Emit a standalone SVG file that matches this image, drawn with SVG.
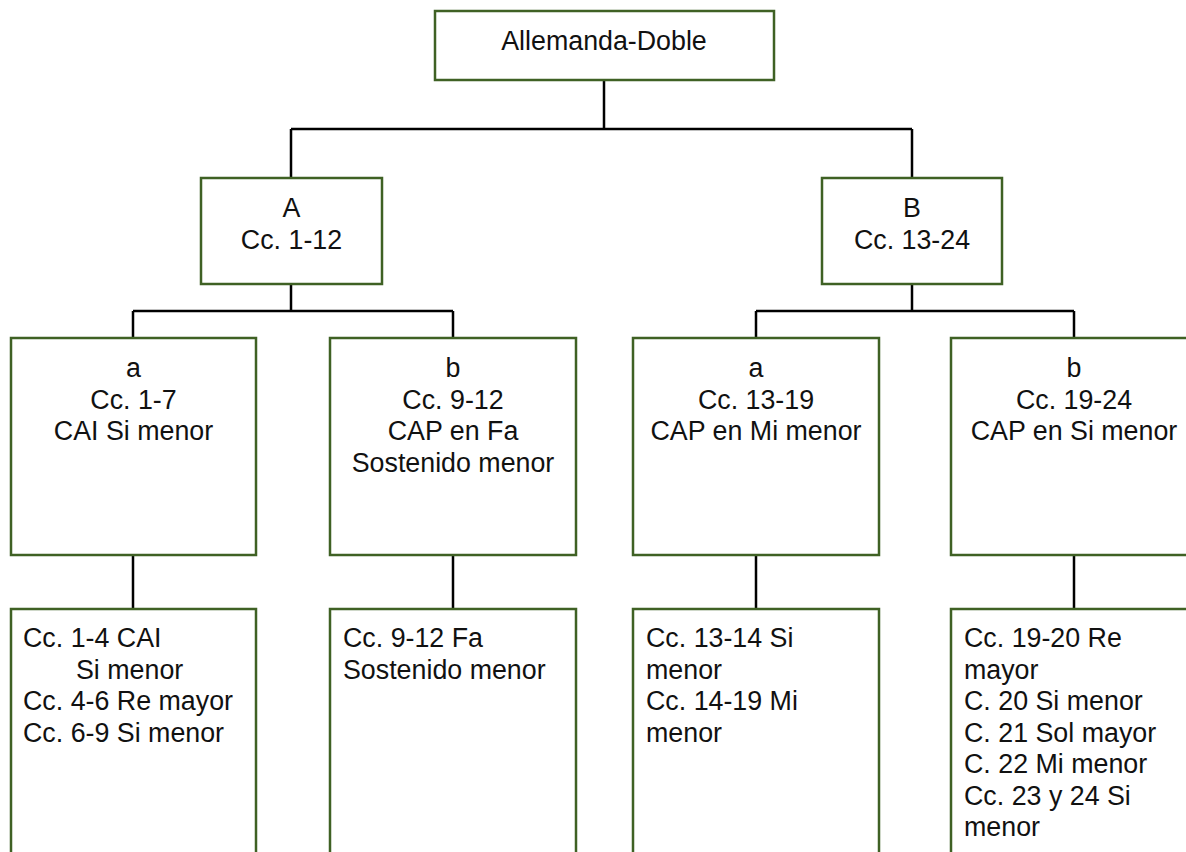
<svg xmlns="http://www.w3.org/2000/svg" width="1186" height="852" viewBox="0 0 1186 852">
<style>
.box{fill:#fff;stroke:#3f6124;stroke-width:2.5}
.t{font-family:"Liberation Sans",Arial,sans-serif;font-size:26.8px;fill:#111}
.c{text-anchor:middle}
.conn{fill:none;stroke:#000;stroke-width:2.5}
</style>
<rect width="1186" height="852" fill="#fff"/>
<g id="connectors">
<path class="conn" d="M604 80V129M291 129H912M291 129V178M912 129V178M291 284V311M133 311H453M133 311V338M453 311V338M912 284V311M756 311H1074M756 311V338M1074 311V338M133 555V609M453 555V609M756 555V609M1074 555V609"/>
</g>
<g id="root">
<rect class="box" x="435" y="11" width="339" height="69"/>
<text class="t c" x="604" y="50">Allemanda-Doble</text>
</g>
<g id="A">
<rect class="box" x="201" y="178" width="181" height="106"/>
<text class="t c" x="291.5" y="217">A</text>
<text class="t c" x="291.5" y="249">Cc. 1-12</text>
</g>
<g id="B">
<rect class="box" x="822" y="178" width="180" height="106"/>
<text class="t c" x="912" y="217">B</text>
<text class="t c" x="912" y="249">Cc. 13-24</text>
</g>
<g id="Aa">
<rect class="box" x="11" y="338" width="245" height="217"/>
<text class="t c" x="133.5" y="377">a</text>
<text class="t c" x="133.5" y="409">Cc. 1-7</text>
<text class="t c" x="133.5" y="440">CAI Si menor</text>
</g>
<g id="Ab">
<rect class="box" x="330" y="338" width="246" height="217"/>
<text class="t c" x="453" y="377">b</text>
<text class="t c" x="453" y="409">Cc. 9-12</text>
<text class="t c" x="453" y="440">CAP en Fa</text>
<text class="t c" x="453" y="472">Sostenido menor</text>
</g>
<g id="Ba">
<rect class="box" x="633" y="338" width="246" height="217"/>
<text class="t c" x="756" y="377">a</text>
<text class="t c" x="756" y="409">Cc. 13-19</text>
<text class="t c" x="756" y="440">CAP en Mi menor</text>
</g>
<g id="Bb">
<rect class="box" x="951" y="338" width="246" height="217"/>
<text class="t c" x="1074" y="377">b</text>
<text class="t c" x="1074" y="409">Cc. 19-24</text>
<text class="t c" x="1074" y="440">CAP en Si menor</text>
</g>
<g id="Aa-detail">
<rect class="box" x="11" y="609" width="245" height="260"/>
<text class="t" x="23" y="647">Cc. 1-4 CAI</text>
<text class="t" x="76" y="679">Si menor</text>
<text class="t" x="23" y="710">Cc. 4-6 Re mayor</text>
<text class="t" x="23" y="742">Cc. 6-9 Si menor</text>
</g>
<g id="Ab-detail">
<rect class="box" x="330" y="609" width="246" height="260"/>
<text class="t" x="343" y="647">Cc. 9-12 Fa</text>
<text class="t" x="343" y="679">Sostenido menor</text>
</g>
<g id="Ba-detail">
<rect class="box" x="633" y="609" width="246" height="260"/>
<text class="t" x="646" y="647">Cc. 13-14 Si</text>
<text class="t" x="646" y="679">menor</text>
<text class="t" x="646" y="710">Cc. 14-19 Mi</text>
<text class="t" x="646" y="742">menor</text>
</g>
<g id="Bb-detail">
<rect class="box" x="951" y="609" width="246" height="260"/>
<text class="t" x="964" y="647">Cc. 19-20 Re</text>
<text class="t" x="964" y="679">mayor</text>
<text class="t" x="964" y="710">C. 20 Si menor</text>
<text class="t" x="964" y="742">C. 21 Sol mayor</text>
<text class="t" x="964" y="773">C. 22 Mi menor</text>
<text class="t" x="964" y="805">Cc. 23 y 24 Si</text>
<text class="t" x="964" y="836">menor</text>
</g>
</svg>
